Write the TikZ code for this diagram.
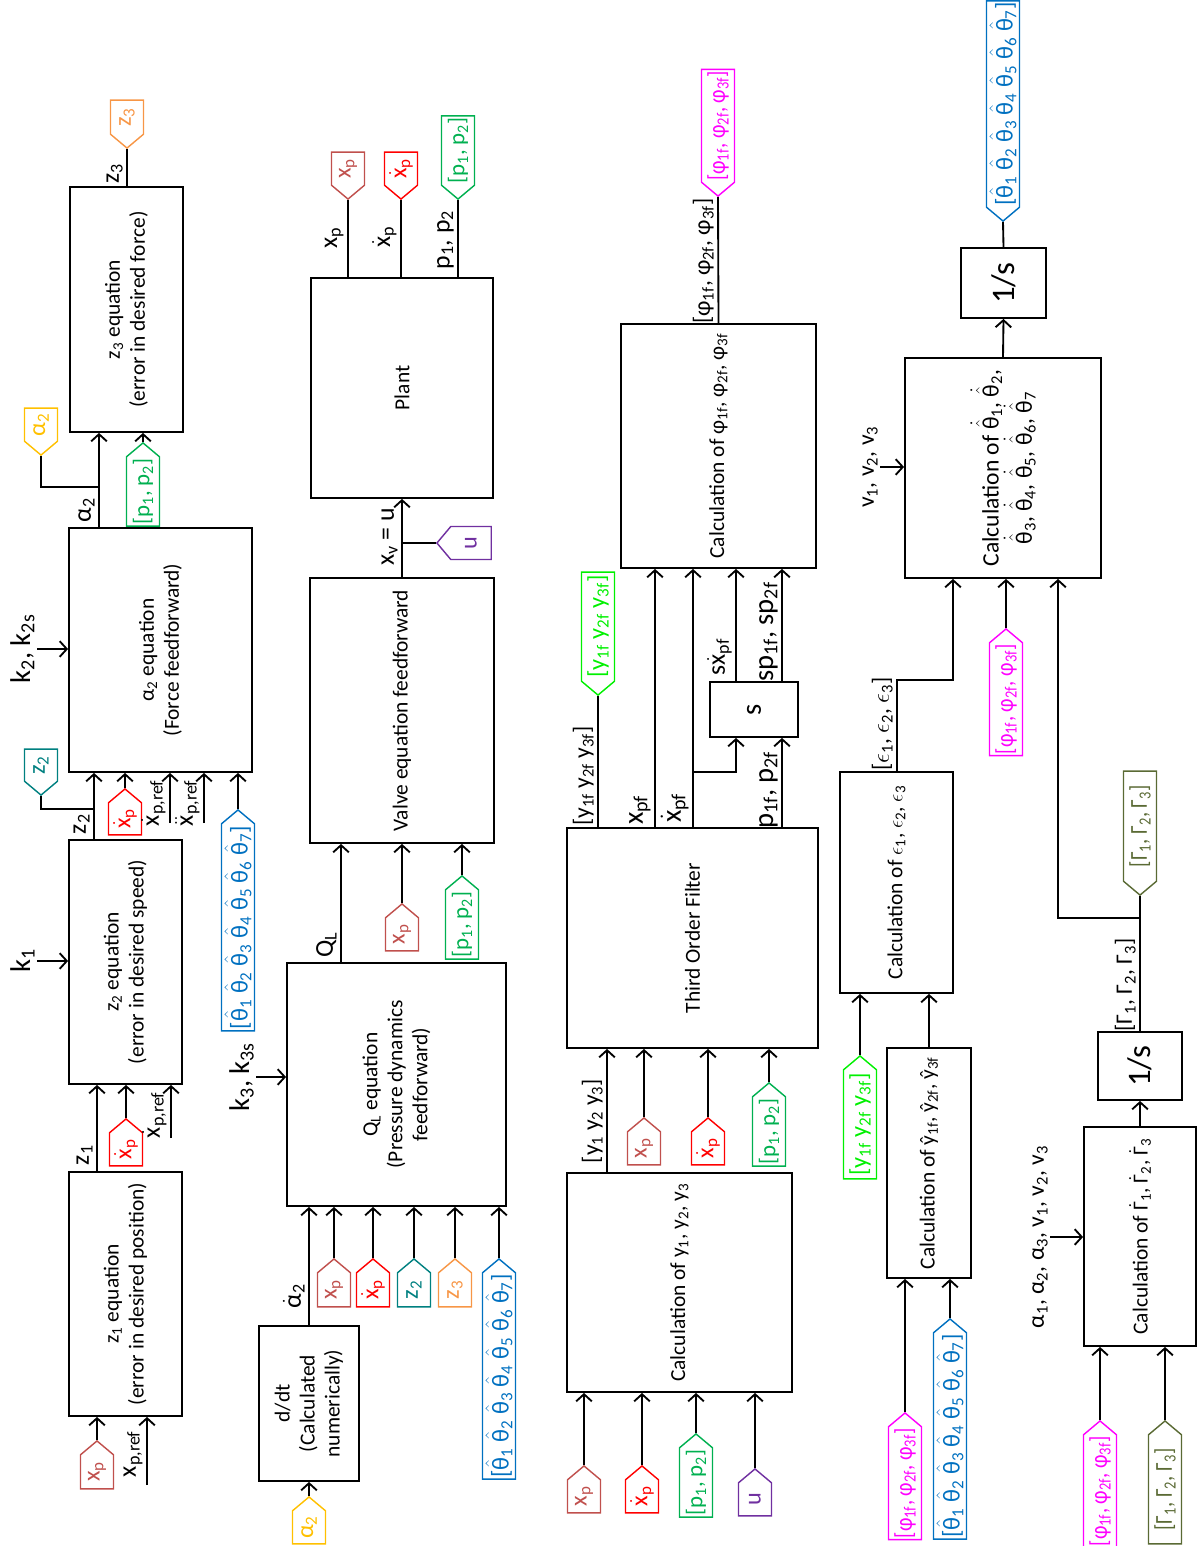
\documentclass[tikz,border=0pt]{standalone}
\usepackage{amsmath}
\usepackage{fontspec}
\setmainfont{Carlito}
\newfontfamily\condfont[FakeStretch=0.85]{Carlito}
\usepackage{xcolor}
\usetikzlibrary{arrows.meta,shapes.symbols}

\definecolor{xpcol}{RGB}{192,80,77}
\definecolor{xdcol}{RGB}{255,0,0}
\definecolor{ztcol}{RGB}{0,128,128}
\definecolor{zocol}{RGB}{247,150,70}
\definecolor{alcol}{RGB}{255,192,0}
\definecolor{ppcol}{RGB}{0,176,80}
\definecolor{thcol}{RGB}{0,112,192}
\definecolor{uucol}{RGB}{112,48,160}
\definecolor{yfcol}{RGB}{0,240,0}
\definecolor{phcol}{RGB}{255,0,255}
\definecolor{gmcol}{RGB}{90,106,52}

\newcommand\unitpx{0.7pt}
\newcommand\blkfont{\fontsize{15}{17.5}\selectfont}
\newcommand\thfont{\fontsize{16.5}{19}\selectfont}
\newcommand\lblfont{\fontsize{18}{20}\selectfont}
\newcommand\smlfont{\fontsize{16.5}{19}\selectfont}
\newcommand\kfont{\fontsize{20}{22}\selectfont}
\newcommand\tagfont{\fontsize{17}{19}\selectfont}
\newcommand\ptagfont{\fontsize{16}{18}\selectfont}
\newcommand\ltagfont{\condfont\fontsize{17}{19}\selectfont}
\newcommand\bigfont{\fontsize{23}{26}\selectfont}
\newcommand\sbs[1]{\textsubscript{#1}}
\newcommand\dtxt[1]{\ensuremath{\dot{\text{#1}}}}
\newcommand\ddtxt[1]{\ensuremath{\ddot{\text{#1}}}}
\newcommand\hth{\ensuremath{\hat{\text{θ}}}}
\newcommand\hdth{\ensuremath{\dot{\hat{\text{θ}}}}}
\newcommand\thetas{[\hth\sbs{1} \hth\sbs{2} \hth\sbs{3} \hth\sbs{4} \hth\sbs{5} \hth\sbs{6} \hth\sbs{7}]}
\newcommand\phis{[φ\sbs{1f}, φ\sbs{2f}, φ\sbs{3f}]}
\newcommand\gams{[Γ\sbs{1}, Γ\sbs{2}, Γ\sbs{3}]}
\newcommand\yfs{[y\sbs{1f} y\sbs{2f} y\sbs{3f}]}
\newcommand\pps{[p\sbs{1}, p\sbs{2}]}

\begin{document}
\begin{tikzpicture}[x=0.7pt, y=-0.7pt, line width=1.3pt,
  >={Straight Barb[length=5pt,width=11pt]},
  blk/.style 2 args={draw, rotate=90, align=center, font=\blkfont, inner sep=2pt,
    minimum width=#1*\unitpx, minimum height=#2*\unitpx},
  lbl/.style={rotate=90, font=\lblfont, inner sep=1pt},
  tag/.style={signal, signal pointer angle=100, draw=#1, text=#1, line width=1pt,
    rotate=90, font=\tagfont, inner sep=1pt, minimum height=33*\unitpx},
  tagin/.style 2 args={tag=#1, signal to=east, anchor=east, minimum width=#2*\unitpx},
  tagout/.style 2 args={tag=#1, signal to=west, anchor=west, minimum width=#2*\unitpx},
  stag/.style={},
  ptag/.style={font=\ptagfont},
  ttag/.style={font=\tagfont},
  ltag/.style={font=\ltagfont}]
  \useasboundingbox (0,0) rectangle (1200,1546);

  % Column 1: z1, z2, alpha2, z3
  \node[blk={244}{113}] (z1) at (125.5,1294) {z\sbs{1} equation\\(error in desired position)};
  \node[blk={244}{113}] (z2) at (125.5,962) {z\sbs{2} equation\\(error in desired speed)};
  \node[blk={244}{183}] (a2) at (160.5,650) {α\sbs{2} equation\\(Force feedforward)};
  \node[blk={245}{113}] (z3) at (126.5,309.5) {z\sbs{3} equation\\(error in desired force)};

  % z1 inputs
  \node[tagin={xpcol}{48}] (t1) at (97,1440) {x\sbs{p}};
  \draw[->] (t1.east) -- (t1.east |- z1.west);
  \coordinate (xr1) at (147,1485);
  \draw[->] (xr1) -- (xr1 |- z1.west);
  \node[lbl, anchor=south] (lxr1) at (145,1454) {x\sbs{p,ref}};

  % z1 -> z2
  \draw[->] (97,0 |- z1.east) -- (97,0 |- z2.west);
  \node[lbl, anchor=south] (lz1) at (95,1155) {z\sbs{1}};
  \node[tagin={xdcol}{47}] (t2) at (126,1118) {\dtxt{x}\sbs{p}};
  \draw[->] (t2.east) -- (t2.east |- z2.west);
  \coordinate (xr2) at (171,1138);
  \draw[->] (xr2) -- (xr2 |- z2.west);
  \node[lbl, anchor=south] (lxr2) at (169,1115) {\dtxt{x}\sbs{p,ref}};
  \node[lbl, font=\kfont, anchor=south] (k1) at (37,961) {k\sbs{1}};
  \draw[->] (k1.south) -- (k1.south -| z2.north);

  % z2 -> alpha2
  \draw[->] (94,0 |- z2.east) -- (94,0 |- a2.west);
  \node[lbl, anchor=south] (lz2) at (92,824) {z\sbs{2}};
  \node[tagout={ztcol}{46}] (t3) at (41,796) {z\sbs{2}};
  \draw (t3.west) |- (94,809);
  \node[tagin={xdcol}{46}] (t4) at (125,788) {\dtxt{x}\sbs{p}};
  \draw[->] (t4.east) -- (t4.east |- a2.west);
  \coordinate (xr3) at (170,823);
  \draw[->] (xr3) -- (xr3 |- a2.west);
  \node[lbl, anchor=south] (lxr3) at (168,803) {\dtxt{x}\sbs{p,ref}};
  \coordinate (xr4) at (204,823);
  \draw[->] (xr4) -- (xr4 |- a2.west);
  \node[lbl, anchor=south] (lxr4) at (202,803) {\ddtxt{x}\sbs{p,ref}};
  \node[tagin={thcol}{221}, ttag] (t5) at (238,809) {\thetas};
  \draw[->] (t5.east) -- (t5.east |- a2.west);
  \node[lbl, font=\kfont, anchor=south] (k2) at (37,649) {k\sbs{2}, k\sbs{2s}};
  \draw[->] (k2.south) -- (k2.south -| a2.north);

  % alpha2 -> z3
  \draw[->] (99,0 |- a2.east) -- (99,0 |- z3.west);
  \node[lbl, anchor=south] (la2) at (97,510) {α\sbs{2}};
  \node[tagout={alcol}{47}] (t6) at (41,456) {α\sbs{2}};
  \draw (t6.west) |- (99,487);
  \node[tagin={ppcol}{83}, ptag] (t7) at (143,442) {\pps};
  \draw[->] (t7.east) -- (t7.east |- z3.west);

  % z3 output
  \node[tagout={zocol}{48}] (t8) at (127,149) {z\sbs{3}};
  \draw (127,0 |- z3.east) -- (t8.west);
  \node[lbl, anchor=south] (lz3) at (125,174) {z\sbs{3}};

  % Column 2: d/dt, Q_L, valve, plant
  \node[blk={155}{100}] (ddt) at (309,1403.5) {d/dt\\(Calculated\\numerically)};
  \node[blk={243}{219}] (ql) at (396.5,1084.5) {Q\sbs{L} equation\\(Pressure dynamics\\feedforward)};
  \node[blk={265}{184}] (valve) at (402,710.5) {Valve equation feedforward};
  \node[blk={220}{182}] (plant) at (402,388) {Plant};

  \node[tagin={alcol}{47}] (t9) at (309,1496) {α\sbs{2}};
  \draw[->] (t9.east) -- (ddt.west);
  \draw[->] (ddt.east) -- (ddt.east |- ql.west);
  \node[lbl, anchor=south] (lad) at (307,1296) {\dtxt{α}\sbs{2}};

  % Q_L inputs
  \foreach \x/\c/\l/\s/\lab [count=\i] in {334/xpcol/48/stag/{x\sbs{p}}, 373/xdcol/48/stag/{\dtxt{x}\sbs{p}},
      414/ztcol/48/stag/{z\sbs{2}}, 455/zocol/48/stag/{z\sbs{3}}, 499/thcol/220/ttag/{\thetas}} {
    \node[tagin={\c}{\l}, \s] (q\i) at (\x,1258) {\lab};
    \draw[->] (q\i.east) -- (q\i.east |- ql.west);
  }
  \node[lbl, font=\kfont, anchor=south] (k3) at (256,1077) {k\sbs{3}, k\sbs{3s}};
  \draw[->] (k3.south) -- (k3.south -| ql.north);

  % Q_L -> valve
  \draw[->] (341,0 |- ql.east) -- (341,0 |- valve.west);
  \node[lbl, anchor=south] (lql) at (339,945) {Q\sbs{L}};
  \node[tagin={xpcol}{47}] (v1) at (402,903) {x\sbs{p}};
  \draw[->] (v1.east) -- (v1.east |- valve.west);
  \node[tagin={ppcol}{83}, ptag] (v2) at (462,875) {\pps};
  \draw[->] (v2.east) -- (v2.east |- valve.west);

  % valve -> plant
  \draw[->] (valve.east) -- (plant.west);
  \node[lbl, anchor=south] (lxv) at (400,537) {x\sbs{v} = u};
  \node[tag={uucol}, signal to=north, anchor=north, minimum width=33*\unitpx,
    minimum height=47*\unitpx] (v3) at (436,543) {u};
  \draw (v3.north) -- (v3.north -| valve.east);

  % plant outputs
  \foreach \x/\c/\l/\s/\lab [count=\i] in {348/xpcol/47/stag/{x\sbs{p}}, 401/xdcol/47/stag/{\dtxt{x}\sbs{p}},
      458/ppcol/82/ptag/{\pps}} {
    \node[tagout={\c}{\l}, \s] (p\i) at (\x,200) {\lab};
    \draw (p\i.west |- plant.east) -- (p\i.west);
  }
  \node[lbl, anchor=south] (lp1) at (346,238) {x\sbs{p}};
  \node[lbl, anchor=south] (lp2) at (399,237) {\dtxt{x}\sbs{p}};
  \node[lbl, anchor=south] (lp3) at (456,240) {p\sbs{1}, p\sbs{2}};

  % Column 3: y calculation, filter, s, phi
  \node[blk={219}{225}] (cy) at (679.5,1282.5) {Calculation of y\sbs{1}, y\sbs{2}, y\sbs{3}};
  \node[blk={220}{251}] (tof) at (692.5,938) {Third Order Filter};
  \node[blk={55}{88}, font=\kfont] (sb) at (754,709.5) {s};
  \node[blk={244}{195}] (phi) at (718.5,446) {Calculation of φ\sbs{1f}, φ\sbs{2f}, φ\sbs{3f}};

  \foreach \x/\c/\l/\y/\s/\lab [count=\i] in {584/xpcol/47/1465/stag/{x\sbs{p}},
      642/xdcol/47/1465/stag/{\dtxt{x}\sbs{p}}, 696/ppcol/81/1433/ptag/{\pps}, 755/uucol/47/1468/stag/{u}} {
    \node[tagin={\c}{\l}, \s] (c\i) at (\x,\y) {\lab};
    \draw[->] (c\i.east) -- (c\i.east |- cy.west);
  }
  \draw[->] (607,0 |- cy.east) -- (607,0 |- tof.west);
  \node[lbl, font=\smlfont, anchor=south] (lcy) at (605,1121) {[y\sbs{1} y\sbs{2} y\sbs{3}]};

  \foreach \x/\c/\l/\y/\s/\lab [count=\i] in {644/xpcol/47/1117/stag/{x\sbs{p}},
      708/xdcol/47/1117/stag/{\dtxt{x}\sbs{p}}, 769/ppcol/82/1082/ptag/{\pps}} {
    \node[tagin={\c}{\l}, \s] (f\i) at (\x,\y) {\lab};
    \draw[->] (f\i.east) -- (f\i.east |- tof.west);
  }

  % filter outputs
  \node[tagout={yfcol}{123}] (yf) at (598,696) {\yfs};
  \draw (598,0 |- tof.east) -- (yf.west);
  \node[lbl, font=\smlfont, anchor=south] (lyf) at (596,776) {\yfs};
  \draw[->] (655,0 |- tof.east) -- (655,0 |- phi.west);
  \node[lbl, font=\kfont, anchor=south] (lxpf) at (653,810) {x\sbs{pf}};
  \draw[->] (693,0 |- tof.east) -- (693,0 |- phi.west);
  \node[lbl, font=\kfont, anchor=south] (lxdf) at (691,808) {\dtxt{x}\sbs{pf}};
  \draw[->] (693,772) -| (736,0 |- sb.west);
  \draw[->] (782,0 |- tof.east) -- (782,0 |- sb.west);
  \node[lbl, font=\kfont, anchor=south] (lpf) at (780,790) {p\sbs{1f}, p\sbs{2f}};
  \draw[->] (736,0 |- sb.east) -- (736,0 |- phi.west);
  \node[lbl, anchor=south] (lsx) at (734,657) {s\dtxt{x}\sbs{pf}};
  \draw[->] (782,0 |- sb.east) -- (782,0 |- phi.west);
  \node[lbl, font=\kfont, anchor=south] (lsp) at (780,632) {sp\sbs{1f}, sp\sbs{2f}};

  % phi output
  \node[tagout={phcol}{123}, ltag] (phf) at (718,197) {\phis};
  \draw (phi.east) -- (phf.west);
  \node[lbl, font=\smlfont, anchor=south] (lphi) at (716,261) {\phis};

  % Column 4: yhat, epsilon, theta, Gamma
  \node[blk={230}{84}] (yh) at (929,1163) {Calculation of ŷ\sbs{1f}, ŷ\sbs{2f}, ŷ\sbs{3f}};
  \node[blk={221}{113}] (eps) at (896.5,882.5) {Calculation of $\epsilon$\sbs{1}, $\epsilon$\sbs{2}, $\epsilon$\sbs{3}};
  \node[blk={220}{196}, font=\thfont] (th) at (1003,468) {Calculation of \hdth\sbs{1}, \hdth\sbs{2},\\
    \hdth\sbs{3}, \hdth\sbs{4}, \hdth\sbs{5}, \hdth\sbs{6}, \hdth\sbs{7}};
  \node[blk={70}{85}, font=\bigfont] (i1) at (1003.5,283) {1/s};
  \node[blk={219}{112}] (gd) at (1140,1236.5) {Calculation of \dtxt{Γ}\sbs{1}, \dtxt{Γ}\sbs{2}, \dtxt{Γ}\sbs{3}};
  \node[blk={68}{84}, font=\bigfont] (i2) at (1140,1066) {1/s};

  \node[tagin={phcol}{118}, ltag] (y1) at (905,1412) {\phis};
  \draw[->] (y1.east) -- (y1.east |- yh.west);
  \node[tagin={thcol}{212}, ttag] (y2) at (950,1318) {\thetas};
  \draw[->] (y2.east) -- (y2.east |- yh.west);
  \draw[->] (yh.east) -- (yh.east |- eps.west);
  \node[tagin={yfcol}{123}] (e1) at (860,1055) {\yfs};
  \draw[->] (e1.east) -- (e1.east |- eps.west);

  % epsilon -> theta
  \draw[->] (897,0 |- eps.east) -- (897,680) -| (953,0 |- th.west);
  \node[lbl, font=\smlfont, anchor=south] (leps) at (895,724) {[$\epsilon$\sbs{1}, $\epsilon$\sbs{2}, $\epsilon$\sbs{3}]};
  \node[lbl, font=\smlfont, anchor=south] (vv) at (880,467) {v\sbs{1}, v\sbs{2}, v\sbs{3}};
  \draw[->] (vv.south) -- (vv.south -| th.north);
  \node[tagin={phcol}{122}, ltag] (h1) at (1006,628) {\phis};
  \draw[->] (h1.east) -- (h1.east |- th.west);
  \draw[->] (th.east) -- (i1.west);
  \node[tagout={thcol}{217}, ttag] (ot) at (1003,222) {\thetas};
  \draw (i1.east) -- (ot.west);

  % Gamma loop
  \node[tagin={phcol}{123}, ltag] (g1) at (1100,1420) {\phis};
  \draw[->] (g1.east) -- (g1.east |- gd.west);
  \node[tagin={gmcol}{123}, ltag] (g2) at (1165,1420) {\gams};
  \draw[->] (g2.east) -- (g2.east |- gd.west);
  \node[lbl, font=\smlfont, anchor=south] (al) at (1050,1237) {α\sbs{1}, α\sbs{2}, α\sbs{3}, v\sbs{1}, v\sbs{2}, v\sbs{3}};
  \draw[->] (al.south) -- (al.south -| gd.north);
  \draw[->] (gd.east) -- (i2.west);
  \node[tagout={gmcol}{124}, ltag] (og) at (1140,896) {\gams};
  \draw (i2.east) -- (og.west);
  \node[lbl, font=\smlfont, anchor=south] (lg) at (1138,985) {\gams};
  \draw[->] (1140,918) -| (1058,0 |- th.west);
\end{tikzpicture}
\end{document}
